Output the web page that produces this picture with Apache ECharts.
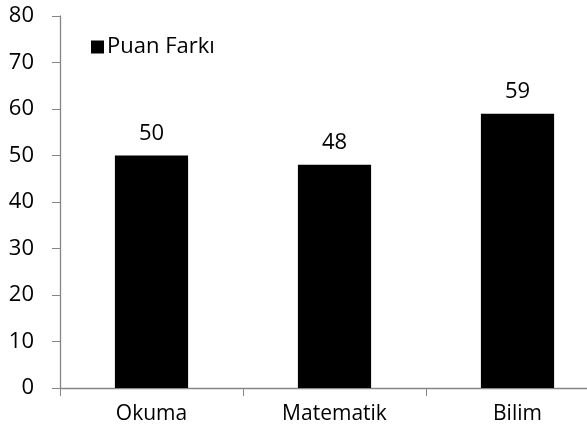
<!DOCTYPE html>
<html>
<head>
<meta charset="utf-8">
<script src="https://cdn.jsdelivr.net/npm/echarts@6/dist/echarts.min.js"></script>
<style>html,body{margin:0;padding:0;background:#fff}#c{width:587px;height:437px}</style>
</head>
<body>
<div id="c"></div>
<script>
const categories = ['Okuma', 'Matematik', 'Bilim'];
const puanFarki = [50, 48, 59];
const seriesName = 'Puan Farkı';
const yTicks = [0, 10, 20, 30, 40, 50, 60, 70, 80];

const font = 'Open Sans';
const axisColor = '#868686';
const chart = echarts.init(document.getElementById('c'));
chart.setOption({
  animation: false,
  backgroundColor: '#fff',
  textStyle: { fontFamily: font },
  legend: {
    data: [seriesName],
    left: 86, top: 31,
    icon: 'rect', itemWidth: 13, itemHeight: 13, itemGap: 4,
    textStyle: { fontFamily: font, fontSize: 22, color: '#000', padding: [0, 0, 0, -2] }
  },
  grid: { left: 60, top: 16, width: 549, height: 372, containLabel: false, outerBoundsMode: 'none' },
  xAxis: {
    type: 'category',
    data: categories,
    axisLine: { lineStyle: { color: axisColor, width: 1.3 } },
    axisTick: { show: true, length: 8, alignWithLabel: false, lineStyle: { color: axisColor } },
    axisLabel: { fontFamily: font, fontSize: 21, color: '#000', margin: 16 }
  },
  yAxis: {
    type: 'value',
    min: yTicks[0], max: yTicks[yTicks.length - 1], interval: 10,
    splitLine: { show: false },
    axisLine: { show: true, lineStyle: { color: axisColor, width: 1.3 } },
    axisTick: { show: true, length: 8, lineStyle: { color: axisColor } },
    axisLabel: { fontFamily: font, fontSize: 22, color: '#000', margin: 26 }
  },
  series: [{
    name: seriesName,
    type: 'bar',
    data: puanFarki,
    barCategoryGap: '60%',
    itemStyle: { color: '#000' },
    label: { show: true, position: 'top', distance: 11, fontFamily: font, fontSize: 22, color: '#000' }
  }]
});
</script>
</body>
</html>
